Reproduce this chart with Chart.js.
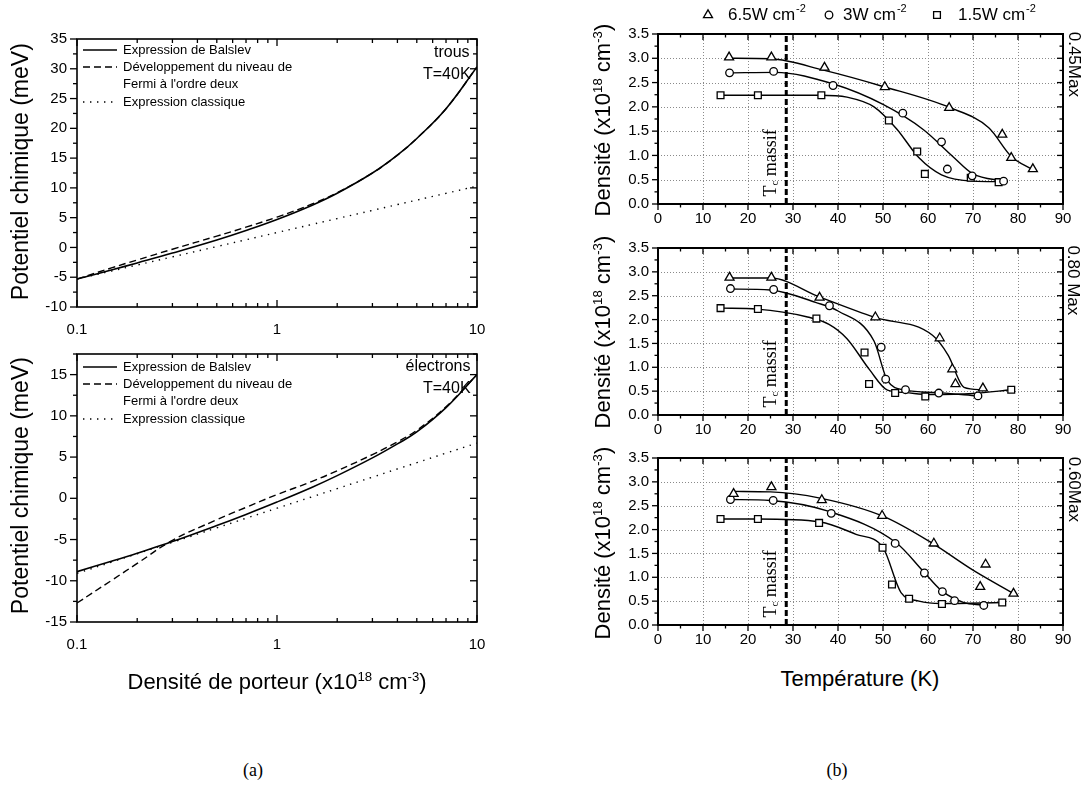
<!DOCTYPE html>
<html><head><meta charset="utf-8">
<script src="https://cdn.jsdelivr.net/npm/chart.js@4.4.1/dist/chart.umd.min.js"></script>
<style>
html,body{margin:0;padding:0;background:#fff}
body{width:1092px;height:785px;position:relative;overflow:hidden;font-family:"Liberation Sans",Arial,sans-serif;color:#000}
canvas{position:absolute}
.lbl{position:absolute;white-space:nowrap;line-height:1.1;transform-origin:center center}
sup{font-size:60%;vertical-align:0.6em;line-height:0}
sub{font-size:60%;vertical-align:-0.25em;line-height:0}
</style></head><body>
<script>
// ---------- DATA (a) : chemical potential vs carrier density ----------
const densite = [0.1,0.15,0.2,0.3,0.5,0.7,1,1.5,2,3,4,5,7,10];
const trousBalslev     = [-5.3,-3.75,-2.6,-0.95,1.25,2.85,4.7,7.1,9.1,12.5,15.5,18.3,23.3,30.3];
const trousOrdreDeux   = [-5.3,-3.4,-2.1,-0.3,1.9,3.4,5.1,7.3,9.2,12.5,15.5,18.3,23.3,30.3];
const trousClassique   = [-5.3,-3.93,-2.95,-1.58,0.15,1.29,2.5,3.87,4.85,6.22,7.2,7.95,9.09,10.3];
const electronsBalslev   = [-8.9,-7.6,-6.65,-5.25,-3.3,-1.95,-0.45,1.35,2.75,4.9,6.6,8.05,11.0,15.0];
const electronsOrdreDeux = [-12.7,-9.9,-7.9,-5.1,-2.6,-1.1,0.45,2.05,3.35,5.3,6.85,8.25,11.1,15.0];
const electronsClassique = [-9.1,-7.71,-6.72,-5.33,-3.58,-2.42,-1.2,0.19,1.18,2.57,3.56,4.32,5.48,6.7];
const legendLabelsA = [["Expression de Balslev"],["Développement du niveau de","Fermi à l'ordre deux"],["Expression classique"]];

// ---------- DATA (b) : density vs temperature ----------
const seriesLabels = ["6.5W cm", "3W cm", "1.5W cm"];
const panelLabels = ["0.45Max", "0.80 Max", "0.60Max"];
const tcMassif = 28.5;
// panel 0.45Max
const t45Tri = [15.8,25.2,37.0,50.4,64.7,76.5,78.5,83.3];
const d45Tri = [3.02,3.02,2.81,2.41,1.98,1.43,0.95,0.72];
const t45Cir = [15.9,25.7,38.9,54.4,63.0,64.3,69.8,76.8];
const d45Cir = [2.70,2.73,2.44,1.87,1.28,0.72,0.58,0.47];
const t45Sq  = [13.9,22.2,36.3,51.3,57.6,59.3,69.5,75.7];
const d45Sq  = [2.24,2.24,2.24,1.72,1.08,0.62,0.54,0.45];
const ft45Tri = [16,25,37,50,65,73.5,78.5,83];
const fd45Tri = [3.0,2.99,2.75,2.42,1.98,1.57,0.98,0.72];
const ft45Cir = [16,26,39,50,59,65.5,70,77];
const fd45Cir = [2.70,2.71,2.47,2.05,1.53,0.98,0.62,0.47];
const ft45Sq  = [14,22,36,42,48,53,58,63,70,76];
const fd45Sq  = [2.24,2.24,2.24,2.2,2.0,1.55,0.95,0.6,0.47,0.46];
// panel 0.80 Max
const t80Tri = [15.9,25.2,35.9,48.3,62.6,65.4,66.1,72.2];
const d80Tri = [2.88,2.88,2.46,2.05,1.61,0.96,0.65,0.56];
const t80Cir = [16.1,25.7,38.1,49.6,50.6,55.0,62.4,71.1];
const d80Cir = [2.65,2.63,2.29,1.42,0.75,0.53,0.46,0.40];
const t80Sq  = [13.9,22.2,35.2,45.9,46.9,52.7,59.4,78.5];
const d80Sq  = [2.24,2.22,2.02,1.31,0.65,0.46,0.39,0.53];
const ft80Tri = [16,25,36,48,61,64.5,68,72];
const fd80Tri = [2.87,2.87,2.47,2.05,1.67,1.25,0.58,0.53];
const ft80Cir = [16,25,35,40,48,51,55,62,71];
const fd80Cir = [2.64,2.62,2.36,2.18,1.55,0.72,0.52,0.47,0.40];
const ft80Sq  = [14,22,33,38,42,47,51,55,60,70,78.5];
const fd80Sq  = [2.24,2.22,2.06,1.9,1.6,0.95,0.52,0.47,0.43,0.45,0.53];
// panel 0.60Max
const t60Tri = [16.8,25.2,36.4,49.8,61.3,72.8,71.6,79.0];
const d60Tri = [2.75,2.89,2.62,2.29,1.71,1.27,0.80,0.66];
const t60Cir = [16.1,25.6,38.5,52.7,59.2,63.2,65.9,72.4];
const d60Cir = [2.63,2.61,2.34,1.71,1.09,0.70,0.51,0.41];
const t60Sq  = [13.9,22.2,35.8,49.9,52.0,55.8,63.1,76.5];
const d60Sq  = [2.22,2.22,2.14,1.62,0.85,0.55,0.44,0.47];
const ft60Tri = [17,25,36,50,61,70,79];
const fd60Tri = [2.8,2.79,2.66,2.28,1.71,1.15,0.66];
const ft60Cir = [16,25,38,53,59,63,68,72];
const fd60Cir = [2.63,2.61,2.38,1.72,1.12,0.72,0.47,0.42];
const ft60Sq  = [14,22,36,44,50,54,58,63,76.5];
const fd60Sq  = [2.22,2.22,2.16,1.9,1.62,0.68,0.5,0.45,0.47];

// ---------- helpers ----------
const FONT = '"Liberation Sans", Arial, sans-serif';
const SERIF = '"Liberation Serif", "Times New Roman", serif';
const pts = (xs, ys) => xs.map((x, i) => ({x: x, y: ys[i]}));

function mkCanvas(left, top, w, h) {
  const c = document.createElement('canvas');
  c.width = w; c.height = h;
  c.style.left = left + 'px'; c.style.top = top + 'px';
  c.style.width = w + 'px'; c.style.height = h + 'px';
  document.body.appendChild(c);
  return c;
}
function label(html, cx, cy, size, rot, family) {
  const d = document.createElement('div');
  d.className = 'lbl'; d.innerHTML = html;
  d.style.fontSize = size + 'px';
  if (family) d.style.fontFamily = family;
  document.body.appendChild(d);
  const w = d.offsetWidth, h = d.offsetHeight;
  d.style.left = (cx - w / 2) + 'px'; d.style.top = (cy - h / 2) + 'px';
  if (rot) d.style.transform = 'rotate(' + rot + 'deg)';
}

// frame, ticks and grid drawn from the chart's own scales
const framePlugin = {
  id: 'frame',
  beforeDatasetsDraw(chart, args, o) {
    if (!o.grid) return;
    const ctx = chart.ctx, a = chart.chartArea, xs = chart.scales.x, ys = chart.scales.y;
    ctx.save();
    ctx.strokeStyle = '#8a8a8a'; ctx.lineWidth = 1; ctx.setLineDash([1, 2]);
    xs.ticks.forEach(t => {
      const p = Math.round(xs.getPixelForValue(t.value)) + 0.5;
      if (p > a.left + 2 && p < a.right - 2) { ctx.beginPath(); ctx.moveTo(p, a.top); ctx.lineTo(p, a.bottom); ctx.stroke(); }
    });
    ys.ticks.forEach(t => {
      const p = Math.round(ys.getPixelForValue(t.value)) + 0.5;
      if (p > a.top + 2 && p < a.bottom - 2) { ctx.beginPath(); ctx.moveTo(a.left, p); ctx.lineTo(a.right, p); ctx.stroke(); }
    });
    ctx.restore();
  },
  afterDatasetsDraw(chart, args, o) {
    const ctx = chart.ctx, a = chart.chartArea, xs = chart.scales.x, ys = chart.scales.y;
    const M = o.major || 6, m = o.minor || 3.5, d = o.dirs;
    ctx.save();
    ctx.strokeStyle = '#000'; ctx.setLineDash([]);
    ctx.lineWidth = o.tickWidth || 1.3;
    const xMaj = [], xMin = [];
    if (o.xLog) {
      for (let e = Math.floor(Math.log10(xs.min)); e <= Math.ceil(Math.log10(xs.max)); e++) {
        for (let k = 1; k <= 9; k++) {
          const v = k * Math.pow(10, e);
          if (v < xs.min * 0.999 || v > xs.max * 1.001) continue;
          (k === 1 ? xMaj : xMin).push(xs.getPixelForValue(v));
        }
      }
    } else {
      xs.ticks.forEach(t => xMaj.push(xs.getPixelForValue(t.value)));
      for (let v = xs.min + o.xMinor; v < xs.max; v += 2 * o.xMinor) xMin.push(xs.getPixelForValue(v));
    }
    const yMaj = [], yMin = [];
    ys.ticks.forEach(t => yMaj.push(ys.getPixelForValue(t.value)));
    for (let v = ys.ticks[0].value - o.yMinor; v <= ys.max + 1e-9; v += o.yMinor) {
      if (v < ys.min - 1e-9) continue;
      if (ys.ticks.some(t => Math.abs(t.value - v) < 1e-6)) continue;
      yMin.push(ys.getPixelForValue(v));
    }
    const seg = (x1, y1, x2, y2) => { ctx.beginPath(); ctx.moveTo(x1, y1); ctx.lineTo(x2, y2); ctx.stroke(); };
    const xt = (list, len) => list.forEach(p => {
      const bs = d.bottom === 'in' ? -len : len; seg(p, a.bottom, p, a.bottom + bs);
      const ts = d.top === 'in' ? len : -len; seg(p, a.top, p, a.top + ts);
    });
    const yt = (list, len) => list.forEach(p => {
      const ls = d.left === 'in' ? len : -len; seg(a.left, p, a.left + ls, p);
      const rs = d.right === 'in' ? -len : len; seg(a.right, p, a.right + rs, p);
    });
    xt(xMaj, M); xt(xMin, m); yt(yMaj, M); yt(yMin, m);
    ctx.lineWidth = o.frameWidth || 1.5;
    ctx.strokeRect(a.left, a.top, a.right - a.left, a.bottom - a.top);
    ctx.restore();
  }
};

// line legend for panels (a)
const lineLegendPlugin = {
  id: 'lineLegend',
  afterDraw(chart, args, o) {
    if (!o.items) return;
    const ctx = chart.ctx;
    ctx.save();
    ctx.font = o.font; ctx.fillStyle = '#000'; ctx.textBaseline = 'middle';
    o.items.forEach(it => {
      const ds = chart.data.datasets[it.ds];
      ctx.strokeStyle = ds.borderColor; ctx.lineWidth = ds.borderWidth;
      ctx.setLineDash(ds.borderDash || []);
      ctx.beginPath(); ctx.moveTo(o.x0, it.y); ctx.lineTo(o.x1, it.y); ctx.stroke();
      ctx.setLineDash([]);
      it.lines.forEach((t, i) => ctx.fillText(t, o.tx, it.y + i * o.lh));
    });
    ctx.restore();
  }
};

// marker legend for panels (b)
const markerLegendPlugin = {
  id: 'markerLegend',
  afterDraw(chart, args, o) {
    if (!o.items) return;
    const ctx = chart.ctx;
    ctx.save();
    o.items.forEach(it => {
      const ds = chart.data.datasets[it.ds];
      ctx.save();
      ctx.fillStyle = ds.backgroundColor; ctx.strokeStyle = ds.borderColor; ctx.lineWidth = ds.borderWidth;
      ctx.setLineDash([]);
      Chart.helpers.drawPoint(ctx, {
        pointStyle: ds.pointStyle, radius: ds.pointRadius, borderWidth: ds.borderWidth, rotation: 0
      }, it.mx, o.y);
      ctx.restore();
      ctx.fillStyle = '#000'; ctx.textBaseline = 'middle';
      ctx.font = o.size + 'px ' + FONT;
      ctx.fillText(it.text, it.tx, o.y);
      const w = ctx.measureText(it.text).width;
      ctx.font = Math.round(o.size * 0.62) + 'px ' + FONT;
      ctx.fillText(it.sup, it.tx + w + 1, o.y - o.size * 0.38);
    });
    ctx.restore();
  }
};

// ---------- panels (a) ----------
function chartA(top, padTop, yMin, yMax, bal, ord, cla, legendYs) {
  const W = 500, H = 330, yw = 77, xh = 43, pr = 23;
  const c = mkCanvas(0, top, W, H);
  const style = {borderColor: '#000', pointRadius: 0, fill: false, tension: 0.4};
  new Chart(c, {
    type: 'line',
    data: {datasets: [
      Object.assign({label: legendLabelsA[0][0], data: pts(densite, bal), borderWidth: 1.6}, style),
      Object.assign({label: legendLabelsA[1].join(' '), data: pts(densite, ord), borderWidth: 1.4, borderDash: [7, 4]}, style),
      Object.assign({label: legendLabelsA[2][0], data: pts(densite, cla), borderWidth: 1.4, borderDash: [1.4, 5.6]}, style)
    ]},
    options: {
      responsive: false, animation: false, devicePixelRatio: 1,
      layout: {padding: {top: padTop, right: pr, left: 0, bottom: 0}},
      plugins: {
        legend: {display: false}, tooltip: {enabled: false},
        frame: {dirs: {left: 'out', bottom: 'in', top: 'in', right: 'in'}, xLog: true, yMinor: 2.5, major: 7, minor: 4, frameWidth: 1.6},
        lineLegend: {font: '13px ' + FONT, x0: 83, x1: 117, tx: 123, lh: 17,
          items: [{ds: 0, y: legendYs[0], lines: legendLabelsA[0]}, {ds: 1, y: legendYs[1], lines: legendLabelsA[1]}, {ds: 2, y: legendYs[2], lines: legendLabelsA[2]}]}
      },
      scales: {
        x: {type: 'logarithmic', min: 0.1, max: 10,
          grid: {display: false, drawTicks: false}, border: {display: false},
          afterFit: s => { s.height = xh; },
          ticks: {autoSkip: false, maxRotation: 0, padding: 14, color: '#000', font: {family: FONT, size: 15},
            callback: v => { const l = Math.log10(v); return Math.abs(l - Math.round(l)) < 1e-6 ? String(+v.toPrecision(3)) : ''; }}},
        y: {type: 'linear', min: yMin, max: yMax,
          grid: {display: false, drawTicks: false}, border: {display: false},
          afterFit: s => { s.width = yw; },
          ticks: {stepSize: 5, includeBounds: false, padding: 10, color: '#000', font: {family: FONT, size: 15}}}
      }
    },
    plugins: [framePlugin, lineLegendPlugin]
  });
}
chartA(20, 15, -10, 35, trousBalslev, trousOrdreDeux, trousClassique, [30, 47, 82]);
chartA(335, 13, -15, 17.5, electronsBalslev, electronsOrdreDeux, electronsClassique, [32, 49, 84]);

// ---------- panels (b) ----------
function chartB(top, padTop, H, series, withLegend) {
  const W = 532, yw = 98, xh = 31, pr = 29;
  const c = mkCanvas(560, top, W, H);
  const mk = (style, r) => ({showLine: false, borderColor: '#000', backgroundColor: '#fff', borderWidth: 1.3,
    pointStyle: style, pointRadius: r, pointHoverRadius: r, order: 0});
  const fit = () => ({borderColor: '#000', borderWidth: 1.4, pointRadius: 0, fill: false,
    cubicInterpolationMode: 'monotone', order: 1});
  const ds = [
    Object.assign({label: seriesLabels[0], data: pts(series[0], series[1])}, mk('triangle', 5.2)),
    Object.assign({label: seriesLabels[1], data: pts(series[2], series[3])}, mk('circle', 3.8)),
    Object.assign({label: seriesLabels[2], data: pts(series[4], series[5])}, mk('rect', 4.8)),
    Object.assign({label: 'fit1', data: pts(series[6], series[7])}, fit()),
    Object.assign({label: 'fit2', data: pts(series[8], series[9])}, fit()),
    Object.assign({label: 'fit3', data: pts(series[10], series[11])}, fit()),
    {label: 'Tc', data: [{x: tcMassif, y: 0}, {x: tcMassif, y: 3.5}], borderColor: '#000', borderWidth: 3,
      borderDash: [6, 3], pointRadius: 0, order: 2}
  ];
  new Chart(c, {
    type: 'line',
    data: {datasets: ds},
    options: {
      responsive: false, animation: false, devicePixelRatio: 1,
      layout: {padding: {top: padTop, right: pr, left: 0, bottom: 0}},
      plugins: {
        legend: {display: false}, tooltip: {enabled: false},
        frame: {grid: true, dirs: {left: 'out', bottom: 'out', top: 'in', right: 'in'}, xMinor: 5, yMinor: 0.25, major: 6, minor: 3.5, frameWidth: 2},
        markerLegend: withLegend ? {y: 15, size: 17, items: [
          {ds: 0, mx: 148, tx: 168, text: seriesLabels[0], sup: '-2'},
          {ds: 1, mx: 269, tx: 283, text: seriesLabels[1], sup: '-2'},
          {ds: 2, mx: 377, tx: 398, text: seriesLabels[2], sup: '-2'}]} : {}
      },
      scales: {
        x: {type: 'linear', min: 0, max: 90,
          grid: {display: false, drawTicks: false}, border: {display: false},
          afterFit: s => { s.height = xh; },
          ticks: {stepSize: 10, autoSkip: false, maxRotation: 0, padding: 6, color: '#000', font: {family: FONT, size: 15}}},
        y: {type: 'linear', min: 0, max: 3.5,
          grid: {display: false, drawTicks: false}, border: {display: false},
          afterFit: s => { s.width = yw; },
          ticks: {stepSize: 0.5, padding: 9, color: '#000', font: {family: FONT, size: 15}, callback: v => v.toFixed(1)}}
      }
    },
    plugins: [framePlugin, markerLegendPlugin]
  });
}
chartB(0, 34, 235, [t45Tri, d45Tri, t45Cir, d45Cir, t45Sq, d45Sq, ft45Tri, fd45Tri, ft45Cir, fd45Cir, ft45Sq, fd45Sq], true);
chartB(230, 14, 216, [t80Tri, d80Tri, t80Cir, d80Cir, t80Sq, d80Sq, ft80Tri, fd80Tri, ft80Cir, fd80Cir, ft80Sq, fd80Sq], false);
chartB(440, 14, 216, [t60Tri, d60Tri, t60Cir, d60Cir, t60Sq, d60Sq, ft60Tri, fd60Tri, ft60Cir, fd60Cir, ft60Sq, fd60Sq], false);

// ---------- text ----------
label('Potentiel chimique (meV)', 20, 171, 23, -90);
label('Potentiel chimique (meV)', 20, 485, 23, -90);
label('trous', 452, 52, 16);
label('T=40K', 447, 74, 16);
label('électrons', 438, 366, 16);
label('T=40K', 447, 388, 16);
label('Densité de porteur (x10<sup>18</sup> cm<sup>-3</sup>)', 277, 682, 22);
const panelBottoms = [204, 415, 625];
const panelMids = [64, 280, 489];
const titleMids = [120, 332, 543];
for (let i = 0; i < 3; i++) {
  label('Densité (x10<sup>18</sup> cm<sup>-3</sup>)', 603, titleMids[i], 22, -90);
  label(panelLabels[i], 1073, panelMids[i], 17, 90);
  label('T<sub>c</sub> massif', 770, panelBottoms[i] - 41, 18, -90, SERIF);
}
label('Température (K)', 860, 679, 22);
label('(a)', 253, 771, 18, 0, SERIF);
label('(b)', 837, 771, 18, 0, SERIF);
</script>
</body></html>
